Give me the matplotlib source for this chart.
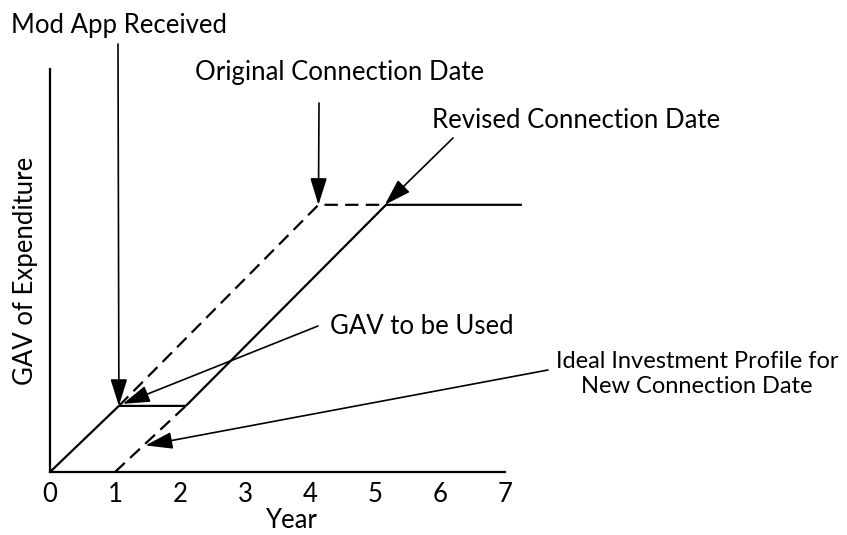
import matplotlib
matplotlib.use("Agg")
import matplotlib.pyplot as plt

plt.rcParams['font.family'] = ['Lato', 'DejaVu Sans']

# ---- data (years, GAV units) ----
x_ticks = [0, 1, 2, 3, 4, 5, 6, 7]
y_top = 6.63          # completed expenditure level
y_mod = 1.64          # expenditure at mod app

# actual spend profile (solid)
spend_x1 = [0, 1.06, 2.09]
spend_y1 = [0, y_mod, y_mod]
spend_x2 = [2.09, 5.17, 7.26]
spend_y2 = [y_mod, y_top, y_top]
# original profile continuation (dashed)
orig_x = [1.06, 4.13, 5.17]
orig_y = [y_mod, y_top, y_top]
# ideal profile for new connection date (dashed)
ideal_x = [1.0, 2.09]
ideal_y = [0, y_mod]

labels = ["Mod App Received", "Original Connection Date", "Revised Connection Date",
          "GAV to be Used", "Ideal Investment Profile for\nNew Connection Date"]
tips_x = [1.06, 4.13, 5.15, 1.12, 1.47]
tips_y = [y_mod, y_top, y_top, 1.69, 0.66]

W, H = 847, 535
fig = plt.figure(figsize=(W / 100, H / 100), dpi=100)
ax = fig.add_axes([50 / W, (H - 472) / H, 481 / W, 403 / H])
ax.set_xlim(0, 7.4)
ax.set_ylim(0, 10)

lw = 1.6
ax.plot(spend_x1, spend_y1, color='black', lw=lw, solid_capstyle='butt')
ax.plot(spend_x2, spend_y2, color='black', lw=lw, solid_capstyle='butt')
ax.plot(orig_x, orig_y, color='black', lw=lw, linestyle=(0, (6.0, 3.3)))
ax.plot(ideal_x, ideal_y, color='black', lw=lw, linestyle=(0, (6.0, 3.3)))

fs = 18.5
for s in ['top', 'right']:
    ax.spines[s].set_visible(False)
for s in ['left', 'bottom']:
    ax.spines[s].set_linewidth(1.6)
ax.spines['bottom'].set_bounds(0, 7)
ax.set_xticks(x_ticks)
ax.set_xticklabels([str(t) for t in x_ticks], fontsize=fs)
ax.set_yticks([])
ax.tick_params(axis='x', length=0, pad=7)
ax.set_xlabel("Year", fontsize=fs, labelpad=1)
ax.set_ylabel("GAV of Expenditure", fontsize=fs, labelpad=9)


def fpx(x, y):
    return (x, H - y)


tails = [(118, 44), (319, 103), (453, 138), (318, 326), (548, 370)]
for (tx, ty), xt, yt in zip(tails, tips_x, tips_y):
    ax.annotate('', xy=(xt, yt), xycoords='data',
                xytext=fpx(tx, ty), textcoords='figure pixels',
                arrowprops=dict(arrowstyle='-|>,head_length=0.83,head_width=0.26',
                                mutation_scale=20, color='black', lw=1.2,
                                shrinkA=0, shrinkB=0))

fig.text(119 / W, 1 - 25 / H, labels[0], ha='center', va='center', fontsize=fs)
fig.text(340 / W, 1 - 72 / H, labels[1], ha='center', va='center', fontsize=fs)
fig.text(432 / W, 1 - 120 / H, labels[2], ha='left', va='center', fontsize=fs)
fig.text(330 / W, 1 - 326 / H, labels[3], ha='left', va='center', fontsize=fs)
fig.text(697 / W, 1 - 374 / H, labels[4], ha='center', va='center', fontsize=17,
         linespacing=1.2)

fig.savefig("out.png", dpi=100)
